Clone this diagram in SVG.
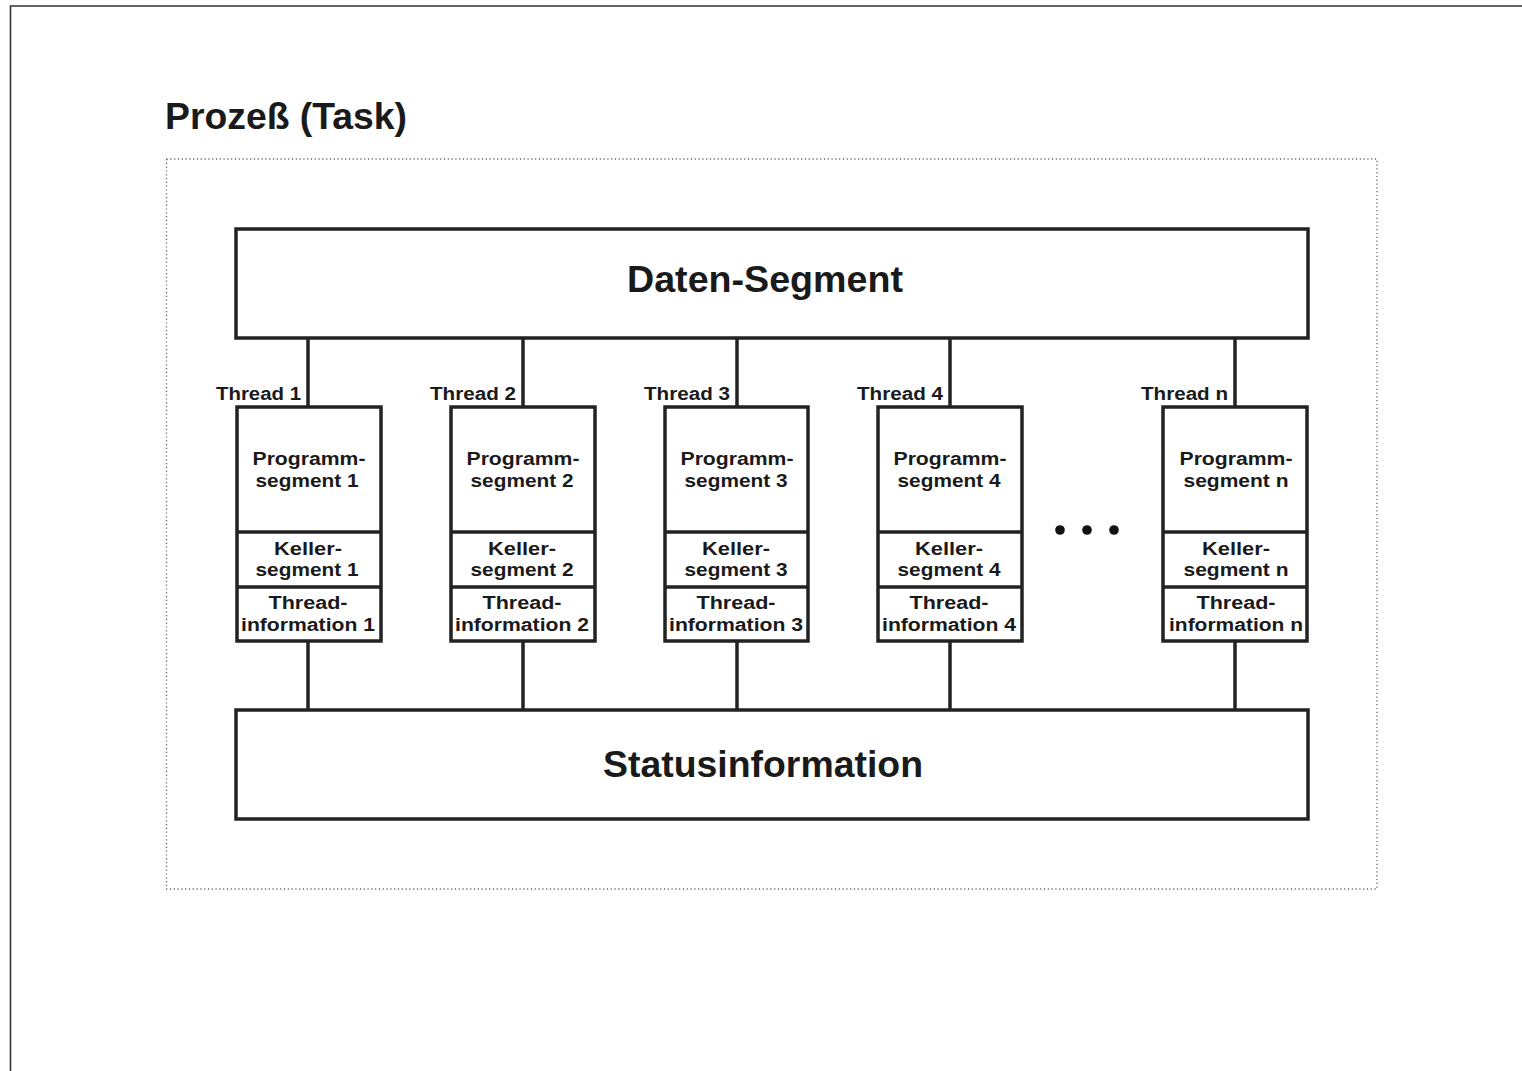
<svg xmlns="http://www.w3.org/2000/svg" width="1522" height="1071" viewBox="0 0 1522 1071">
<style>
  .frame{fill:none;stroke:#333;stroke-width:1.6}
  .dotted{fill:none;stroke:#666;stroke-width:1.3;stroke-dasharray:1.2 2.6}
  .box{fill:#fff;stroke:#222;stroke-width:3.5}
  .div{stroke:#222;stroke-width:3.5}
  .conn{stroke:#222;stroke-width:3.5;fill:none}
  text{font-family:"Liberation Sans",Arial,sans-serif;font-weight:bold;fill:#1a1a1a}
  .big{font-size:37px;text-anchor:middle}
  .lbl{font-size:18.8px;text-anchor:middle}
  .thr{font-size:18.8px;text-anchor:end}
  .title{font-size:36px}
</style>
<rect width="1522" height="1071" fill="#fff"/>
<path class="frame" d="M1522 6 H10.5 V1071"/>
<text class="title" x="165" y="129" textLength="242" lengthAdjust="spacingAndGlyphs">Prozeß (Task)</text>
<rect class="dotted" x="166.5" y="159" width="1210.5" height="730"/>

<g id="connectors">
  <line class="conn" x1="308" y1="338" x2="308" y2="407"/>
  <line class="conn" x1="523" y1="338" x2="523" y2="407"/>
  <line class="conn" x1="737" y1="338" x2="737" y2="407"/>
  <line class="conn" x1="950" y1="338" x2="950" y2="407"/>
  <line class="conn" x1="1235" y1="338" x2="1235" y2="407"/>
  <line class="conn" x1="308" y1="641" x2="308" y2="710"/>
  <line class="conn" x1="523" y1="641" x2="523" y2="710"/>
  <line class="conn" x1="737" y1="641" x2="737" y2="710"/>
  <line class="conn" x1="950" y1="641" x2="950" y2="710"/>
  <line class="conn" x1="1235" y1="641" x2="1235" y2="710"/>
</g>

<g id="daten-segment">
  <rect class="box" x="236" y="229" width="1072" height="109"/>
  <text class="big" x="765" y="292" textLength="276" lengthAdjust="spacingAndGlyphs">Daten-Segment</text>
</g>

<g id="statusinformation">
  <rect class="box" x="236" y="710" width="1072" height="109"/>
  <text class="big" x="763" y="777" textLength="320" lengthAdjust="spacingAndGlyphs">Statusinformation</text>
</g>

<g id="thread-1">
  <text class="thr" x="301" y="400" textLength="85" lengthAdjust="spacingAndGlyphs">Thread 1</text>
  <rect class="box" x="237" y="407" width="144" height="234"/>
  <line class="div" x1="237" y1="532" x2="381" y2="532"/>
  <line class="div" x1="237" y1="587" x2="381" y2="587"/>
  <text class="lbl" x="309" y="465" textLength="113" lengthAdjust="spacingAndGlyphs">Programm-</text>
  <text class="lbl" x="307" y="487" textLength="103" lengthAdjust="spacingAndGlyphs">segment 1</text>
  <text class="lbl" x="308" y="555" textLength="68" lengthAdjust="spacingAndGlyphs">Keller-</text>
  <text class="lbl" x="307" y="576" textLength="103" lengthAdjust="spacingAndGlyphs">segment 1</text>
  <text class="lbl" x="308" y="609" textLength="79" lengthAdjust="spacingAndGlyphs">Thread-</text>
  <text class="lbl" x="308" y="631" textLength="134" lengthAdjust="spacingAndGlyphs">information 1</text>
</g>

<g id="thread-2">
  <text class="thr" x="516" y="400" textLength="86" lengthAdjust="spacingAndGlyphs">Thread 2</text>
  <rect class="box" x="451" y="407" width="144" height="234"/>
  <line class="div" x1="451" y1="532" x2="595" y2="532"/>
  <line class="div" x1="451" y1="587" x2="595" y2="587"/>
  <text class="lbl" x="523" y="465" textLength="113" lengthAdjust="spacingAndGlyphs">Programm-</text>
  <text class="lbl" x="522" y="487" textLength="103" lengthAdjust="spacingAndGlyphs">segment 2</text>
  <text class="lbl" x="522" y="555" textLength="68" lengthAdjust="spacingAndGlyphs">Keller-</text>
  <text class="lbl" x="522" y="576" textLength="103" lengthAdjust="spacingAndGlyphs">segment 2</text>
  <text class="lbl" x="522" y="609" textLength="79" lengthAdjust="spacingAndGlyphs">Thread-</text>
  <text class="lbl" x="522" y="631" textLength="134" lengthAdjust="spacingAndGlyphs">information 2</text>
</g>

<g id="thread-3">
  <text class="thr" x="730" y="400" textLength="86" lengthAdjust="spacingAndGlyphs">Thread 3</text>
  <rect class="box" x="665" y="407" width="143" height="234"/>
  <line class="div" x1="665" y1="532" x2="808" y2="532"/>
  <line class="div" x1="665" y1="587" x2="808" y2="587"/>
  <text class="lbl" x="737" y="465" textLength="113" lengthAdjust="spacingAndGlyphs">Programm-</text>
  <text class="lbl" x="736" y="487" textLength="103" lengthAdjust="spacingAndGlyphs">segment 3</text>
  <text class="lbl" x="736" y="555" textLength="68" lengthAdjust="spacingAndGlyphs">Keller-</text>
  <text class="lbl" x="736" y="576" textLength="103" lengthAdjust="spacingAndGlyphs">segment 3</text>
  <text class="lbl" x="736" y="609" textLength="79" lengthAdjust="spacingAndGlyphs">Thread-</text>
  <text class="lbl" x="736" y="631" textLength="134" lengthAdjust="spacingAndGlyphs">information 3</text>
</g>

<g id="thread-4">
  <text class="thr" x="943" y="400" textLength="86" lengthAdjust="spacingAndGlyphs">Thread 4</text>
  <rect class="box" x="878" y="407" width="144" height="234"/>
  <line class="div" x1="878" y1="532" x2="1022" y2="532"/>
  <line class="div" x1="878" y1="587" x2="1022" y2="587"/>
  <text class="lbl" x="950" y="465" textLength="113" lengthAdjust="spacingAndGlyphs">Programm-</text>
  <text class="lbl" x="949" y="487" textLength="103" lengthAdjust="spacingAndGlyphs">segment 4</text>
  <text class="lbl" x="949" y="555" textLength="68" lengthAdjust="spacingAndGlyphs">Keller-</text>
  <text class="lbl" x="949" y="576" textLength="103" lengthAdjust="spacingAndGlyphs">segment 4</text>
  <text class="lbl" x="949" y="609" textLength="79" lengthAdjust="spacingAndGlyphs">Thread-</text>
  <text class="lbl" x="949" y="631" textLength="134" lengthAdjust="spacingAndGlyphs">information 4</text>
</g>

<g id="ellipsis">
  <circle cx="1060" cy="530" r="4.8" fill="#111"/>
  <circle cx="1087" cy="530" r="4.8" fill="#111"/>
  <circle cx="1114" cy="530" r="4.8" fill="#111"/>
</g>

<g id="thread-n">
  <text class="thr" x="1228" y="400" textLength="87" lengthAdjust="spacingAndGlyphs">Thread n</text>
  <rect class="box" x="1163" y="407" width="144" height="234"/>
  <line class="div" x1="1163" y1="532" x2="1307" y2="532"/>
  <line class="div" x1="1163" y1="587" x2="1307" y2="587"/>
  <text class="lbl" x="1236" y="465" textLength="113" lengthAdjust="spacingAndGlyphs">Programm-</text>
  <text class="lbl" x="1236" y="487" textLength="105" lengthAdjust="spacingAndGlyphs">segment n</text>
  <text class="lbl" x="1236" y="555" textLength="68" lengthAdjust="spacingAndGlyphs">Keller-</text>
  <text class="lbl" x="1236" y="576" textLength="105" lengthAdjust="spacingAndGlyphs">segment n</text>
  <text class="lbl" x="1236" y="609" textLength="79" lengthAdjust="spacingAndGlyphs">Thread-</text>
  <text class="lbl" x="1236" y="631" textLength="134" lengthAdjust="spacingAndGlyphs">information n</text>
</g>
</svg>
